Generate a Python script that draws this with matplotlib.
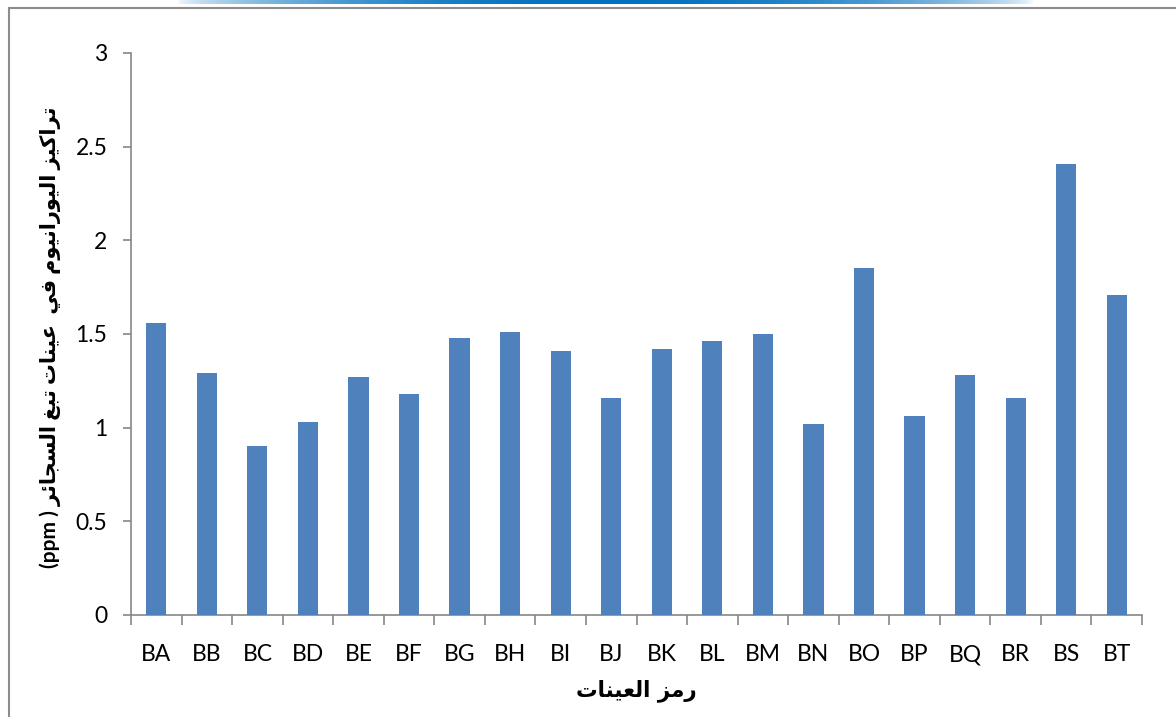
import matplotlib
matplotlib.use("Agg")
import matplotlib.pyplot as plt
import numpy as np
from matplotlib.lines import Line2D

samples = ["BA", "BB", "BC", "BD", "BE", "BF", "BG", "BH", "BI", "BJ",
           "BK", "BL", "BM", "BN", "BO", "BP", "BQ", "BR", "BS", "BT"]
uranium_ppm = [1.56, 1.29, 0.90, 1.03, 1.27, 1.18, 1.48, 1.51, 1.41, 1.16,
               1.42, 1.46, 1.50, 1.02, 1.85, 1.06, 1.28, 1.16, 2.41, 1.71]
y_ticks = [0, 0.5, 1, 1.5, 2, 2.5, 3]

x_title = "رمز العينات"
y_title = "تراكيز اليورانيوم في  عينات تبغ السجائر"
y_unit = "(ppm ) "

# Arabic presentation forms: isolated, final, initial, medial
FORMS = {
    "ا": (0xFE8D, 0xFE8E, None, None),
    "ب": (0xFE8F, 0xFE90, 0xFE91, 0xFE92),
    "ت": (0xFE95, 0xFE96, 0xFE97, 0xFE98),
    "ج": (0xFE9D, 0xFE9E, 0xFE9F, 0xFEA0),
    "ر": (0xFEAD, 0xFEAE, None, None),
    "ز": (0xFEAF, 0xFEB0, None, None),
    "س": (0xFEB1, 0xFEB2, 0xFEB3, 0xFEB4),
    "ع": (0xFEC9, 0xFECA, 0xFECB, 0xFECC),
    "غ": (0xFECD, 0xFECE, 0xFECF, 0xFED0),
    "ف": (0xFED1, 0xFED2, 0xFED3, 0xFED4),
    "ك": (0xFED9, 0xFEDA, 0xFEDB, 0xFEDC),
    "ل": (0xFEDD, 0xFEDE, 0xFEDF, 0xFEE0),
    "م": (0xFEE1, 0xFEE2, 0xFEE3, 0xFEE4),
    "ن": (0xFEE5, 0xFEE6, 0xFEE7, 0xFEE8),
    "و": (0xFEED, 0xFEEE, None, None),
    "ي": (0xFEF1, 0xFEF2, 0xFEF3, 0xFEF4),
    "ئ": (0xFE89, 0xFE8A, 0xFE8B, 0xFE8C),
}


def shape_word(word):
    out = []
    n = len(word)
    for i, ch in enumerate(word):
        f = FORMS.get(ch)
        if f is None:
            out.append(ch)
            continue
        prev_joins = i > 0 and word[i - 1] in FORMS and FORMS[word[i - 1]][2] is not None
        next_joins = i < n - 1 and word[i + 1] in FORMS and f[2] is not None
        if prev_joins and next_joins:
            cp = f[3]
        elif prev_joins:
            cp = f[1]
        elif next_joins:
            cp = f[2]
        else:
            cp = f[0]
        out.append(chr(cp))
    return "".join(reversed(out))


def visual(text):
    words = text.split(" ")
    return " ".join(shape_word(w) for w in reversed(words))


fig = plt.figure(figsize=(11.76, 7.17), dpi=100)
ax = fig.add_axes([0.1114, 0.1423, 0.8597, 0.7838])

x = np.arange(len(samples))
ax.bar(x, uranium_ppm, width=0.4, color="#4F81BD", zorder=3)

ax.set_xlim(-0.5, len(samples) - 0.5)
ax.set_ylim(0, 3)
ax.set_yticks(y_ticks)
ax.set_yticklabels([f"{t:g}" for t in y_ticks])
ax.set_xticks(x)
ax.set_xticklabels(samples)
ax.set_xticks(np.arange(len(samples) + 1) - 0.5, minor=True)

for side in ("top", "right"):
    ax.spines[side].set_visible(False)
for side in ("left", "bottom"):
    ax.spines[side].set_color("#868686")
    ax.spines[side].set_linewidth(1.2)

ax.tick_params(axis="x", which="major", length=0, pad=21)
ax.tick_params(axis="x", which="minor", length=7, color="#868686", width=1.2)
ax.tick_params(axis="y", length=6, color="#868686", width=1.2, pad=11)
for lbl in ax.get_xticklabels() + ax.get_yticklabels():
    lbl.set_fontfamily(["Lato", "DejaVu Sans"])
    lbl.set_fontsize(16.5)

ax.set_xlabel(visual(x_title), fontsize=15.5, fontweight="bold",
              family=["DejaVu Sans"], labelpad=10)
fig.text(0.043, 0.53, y_unit + visual(y_title), rotation=90,
         ha="center", va="center", fontsize=15, fontweight="bold",
         family=["Lato", "DejaVu Sans"])

# chart frame
fig.add_artist(Line2D([0.0075, 1.0], [0.9885, 0.9885], color="#8C8C8C", lw=1.5))
fig.add_artist(Line2D([0.0075, 0.0075], [0.0, 0.9885], color="#8C8C8C", lw=1.5))

# blue header stripe fading at the ends
band = fig.add_axes([0.15, 0.9945, 0.73, 0.0055])
grad = np.sin(np.linspace(0, np.pi, 400)) ** 0.6
rgba = np.zeros((1, 400, 4))
rgba[..., 0] = 0.0
rgba[..., 1] = 0.44
rgba[..., 2] = 0.75
rgba[..., 3] = grad
band.imshow(rgba, aspect="auto", extent=(0, 1, 0, 1))
band.axis("off")

fig.savefig("out.png", dpi=100)
